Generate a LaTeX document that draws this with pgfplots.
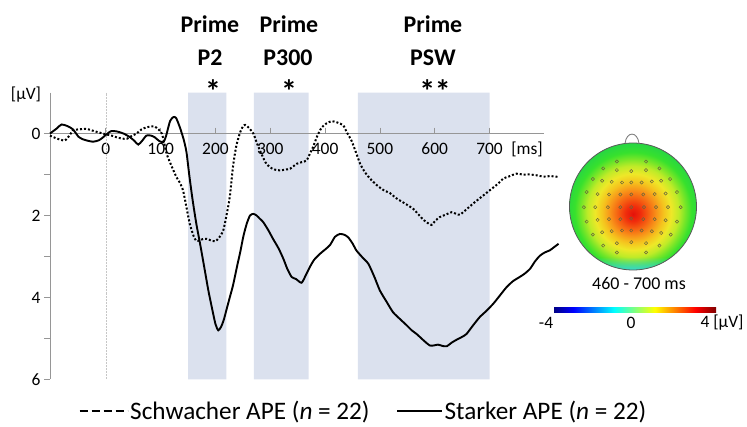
\documentclass[border=0pt]{standalone}
\usepackage{fontspec}
\setmainfont{Carlito}
\usepackage{pgfplots}
\pgfplotsset{compat=1.18}
\usetikzlibrary{fadings}
\definecolor{shadeblue}{RGB}{219,225,238}
\definecolor{axgray}{RGB}{150,150,150}
\definecolor{tpa}{RGB}{228,18,10}
\definecolor{tpb}{RGB}{240,45,12}
\definecolor{tpc}{RGB}{245,95,18}
\definecolor{tpd}{RGB}{248,145,25}
\definecolor{tpe}{RGB}{245,195,30}
\definecolor{tpf}{RGB}{238,232,40}
\definecolor{tpg}{RGB}{190,235,40}
\definecolor{tph}{RGB}{120,230,40}
\definecolor{tpi}{RGB}{55,225,45}
\definecolor{tpj}{RGB}{40,215,65}
\definecolor{tpcyan}{RGB}{60,215,215}
\definecolor{elec}{RGB}{105,100,60}
\pgfdeclareradialshading{topo}{\pgfpoint{0bp}{-3bp}}{%
 color(0bp)=(tpa);
 color(3bp)=(tpb);
 color(6bp)=(tpc);
 color(9bp)=(tpd);
 color(12bp)=(tpe);
 color(15bp)=(tpf);
 color(18bp)=(tpg);
 color(20.5bp)=(tph);
 color(23bp)=(tpi);
 color(26bp)=(tpj);
 color(50bp)=(tpj)}
\tikzfading[name=fadeup, top color=transparent!100, bottom color=transparent!0]
\newcommand{\tl}{\fontsize{17.5}{20}\selectfont}
\begin{document}
\begin{tikzpicture}
\begin{axis}[
 set layers,
 at={(50bp,47.5bp)}, anchor=south west, scale only axis,
 width=494.3bp, height=287bp,
 xmin=-102, xmax=800, ymin=-1, ymax=6, y dir=reverse,
 axis x line=middle, axis y line=left,
 axis line style={-, draw=axgray, line width=0.8bp},
 xtick={0,100,...,700}, ytick={0,1,...,6}, yticklabels={0,,2,,4,,6},
 tick style={draw=axgray, line width=0.8bp}, major tick length=6bp,
 tick align=outside,
 tick label style={font=\tl},
 /pgf/number format/assume math mode=true,
 clip=false,
 legend columns=2,
 legend cell align=left,
 legend style={at={(axis description cs:0.0577,-0.11)}, anchor=west, draw=none, fill=none,
   font=\fontsize{25.3}{28}\selectfont, inner sep=0pt,
   nodes={inner sep=1.5bp},
   /tikz/every even column/.append style={column sep=25bp}},
]
\addplot[fill=shadeblue, draw=none, forget plot, on layer=axis background] coordinates {(150,-1)(220,-1)(220,6)(150,6)(150,-1)};
\addplot[fill=shadeblue, draw=none, forget plot, on layer=axis background] coordinates {(270,-1)(370,-1)(370,6)(270,6)(270,-1)};
\addplot[fill=shadeblue, draw=none, forget plot, on layer=axis background] coordinates {(460,-1)(700,-1)(700,6)(460,6)(460,-1)};
\addplot[gray!45, line width=0.5bp, densely dotted, forget plot] coordinates {(0,-1)(0,6)};
% Schwacher APE (dotted)
\addplot[black, line width=2bp, dash pattern=on 2bp off 2bp, smooth, tension=0.4,
 legend image code/.code={\draw[black, line width=2bp, dash pattern=on 8.5bp off 3.5bp] (0bp,0bp) -- (48bp,0bp);}]
 coordinates {
(-102,0.05)(-90,0.12)(-75,0.17)(-65,0.02)(-60,-0.08)(-50,-0.1)(-35,-0.11)(-22,-0.06)(-11,-0.02)
(0,0.02)(10,0.05)(19,0.09)(28,0.12)(38,0.13)(47,0.06)(56,0.0)(65,-0.1)(74,-0.15)(82,-0.17)(89,-0.17)
(96,-0.1)(102,0.0)(106,0.2)(111,0.5)(120,0.8)(129,1.07)(135,1.2)(141,1.4)(147,1.8)(153,2.2)(160,2.5)
(165,2.62)(172,2.6)(178,2.57)(184,2.57)(190,2.6)(199,2.63)(206,2.55)(214,2.37)(220,2.0)(226,1.55)
(232,0.8)(238,0.3)(245,-0.03)(250,-0.17)(254,-0.21)(260,-0.15)(269,0.0)(276,0.25)(284,0.5)(291,0.7)
(299,0.82)(308,0.88)(318,0.9)(327,0.88)(336,0.86)(348,0.74)(357,0.70)(366,0.66)(372,0.5)(378,0.33)
(386,0.05)(394,-0.15)(403,-0.25)(412,-0.3)(422,-0.27)(433,-0.2)(440,-0.02)(448,0.17)(456,0.45)
(464,0.74)(473,0.95)(482,1.1)(491,1.22)(500,1.32)(509,1.4)(518,1.45)(530,1.58)(546,1.71)(561,1.84)
(570,1.97)(579,2.1)(587,2.18)(594,2.23)(601,2.13)(609,2.04)(620,1.98)(631,1.92)(639,1.96)(646,1.98)
(658,1.85)(670,1.71)(685,1.55)(701,1.38)(716,1.22)(725,1.1)(735,1.05)(749,0.98)(760,1.0)(774,1.0)
(786,1.02)(798,1.05)(812,1.04)(826,1.06)
 };
\addlegendentry{Schwacher APE (\textit{n} = 22)}
% Starker APE (solid)
\addplot[black, line width=1.9bp, smooth, tension=0.4,
 legend image code/.code={\draw[black, line width=2bp] (0bp,0bp) -- (45bp,0bp);}]
 coordinates {
(-102,0.0)(-90,-0.12)(-81,-0.22)(-70,-0.18)(-60,-0.10)(-50,0.08)(-44,0.13)(-35,0.17)(-23,0.20)
(-12,0.16)(-5,0.09)(3,0.0)(10,-0.06)(20,-0.05)(32,0.0)(44,0.09)(52,0.18)(59,0.27)(66,0.18)(74,0.05)
(82,0.05)(89,0.09)(97,0.18)(105,0.21)(110,0.05)(117,-0.3)(123,-0.4)(128,-0.38)(135,-0.15)(142,0.15)
(147,0.45)(152,1.0)(158,1.6)(165,2.2)(172,2.7)(180,3.3)(187,3.83)(195,4.35)(200,4.65)(205,4.8)
(210,4.72)(215,4.55)(220,4.3)(226,4.0)(232,3.7)(240,3.2)(245,2.9)(251,2.5)(257,2.2)(263,2.0)(269,1.96)
(275,2.0)(281,2.08)(287,2.16)(296,2.35)(305,2.57)(315,2.8)(324,3.06)(331,3.3)(339,3.5)(347,3.55)
(357,3.64)(365,3.45)(372,3.26)(380,3.08)(391,2.93)(400,2.83)(409,2.72)(418,2.52)(427,2.45)(435,2.47)
(442,2.53)(450,2.68)(457,2.85)(468,3.02)(479,3.18)(490,3.5)(500,3.83)(512,4.1)(524,4.36)(537,4.53)
(549,4.68)(558,4.8)(567,4.89)(580,5.05)(591,5.17)(598,5.17)(606,5.15)(614,5.18)(622,5.19)(631,5.1)
(640,5.03)(650,4.96)(658,4.89)(670,4.68)(682,4.48)(694,4.33)(707,4.15)(719,3.95)(731,3.75)(743,3.6)
(755,3.5)(764,3.42)(774,3.3)(783,3.12)(792,2.98)(801,2.9)(810,2.85)(818,2.77)(826,2.69)
 };
\addlegendentry{Starker APE (\textit{n} = 22)}
\end{axis}
% topographic map: head shading
\shade[shading=topo] (633bp,220.5bp) circle[radius=63.5bp];
\begin{scope}
\clip (633bp,220.5bp) circle[radius=63.5bp];
\fill[tpcyan, path fading=fadeup] (569bp,156.5bp) rectangle (697bp,170bp);
\end{scope}
\draw[gray!70!black, line width=0.8bp] (633bp,220.5bp) circle[radius=63.5bp];
\draw[gray, line width=0.9bp] (625bp,283.5bp) .. controls (626.5bp,296bp) and (637.5bp,296bp) .. (639bp,283.5bp);
\begin{axis}[
 at={(633bp,220.5bp)}, anchor=center, scale only axis,
 width=127bp, height=127bp,
 xmin=-1, xmax=1, ymin=-1, ymax=1,
 hide axis, clip=false,
 colormap/jet, point meta min=-4, point meta max=4,
 colorbar horizontal,
 colorbar/width=5bp,
 colorbar style={scale only axis, at={(parent axis.south west)}, anchor=south west,
   xshift=-16.5bp, yshift=-34bp, width=163bp,
   xtick=\empty, axis line style={draw=none}},
]
\addplot[only marks, mark=o, mark size=1.6bp, mark options={draw=elec, line width=0.5bp}] coordinates {
(-0.254,0.708)(0.205,0.708)
(-0.470,0.600)(0.416,0.600)(-0.254,0.573)(-0.027,0.557)(0.205,0.573)
(-0.632,0.432)(-0.486,0.405)(-0.335,0.389)(-0.173,0.378)(-0.027,0.378)(0.135,0.378)(0.297,0.395)(0.443,0.405)(0.584,0.432)
(-0.730,0.227)(-0.557,0.195)(-0.378,0.189)(-0.2,0.189)(-0.027,0.189)(0.162,0.189)(0.341,0.195)(0.514,0.205)(0.692,0.227)
(-0.773,-0.011)(-0.595,-0.011)(-0.395,-0.011)(-0.2,-0.011)(-0.027,-0.011)(0.173,-0.011)(0.362,-0.011)(0.551,-0.011)(0.751,-0.011)
(-0.730,-0.238)(-0.557,-0.211)(-0.378,-0.200)(-0.2,-0.200)(-0.027,-0.189)(0.162,-0.200)(0.341,-0.200)(0.514,-0.216)(0.692,-0.238)
(-0.632,-0.443)(-0.486,-0.405)(-0.335,-0.389)(-0.173,-0.378)(-0.027,-0.378)(0.135,-0.378)(0.297,-0.389)(0.443,-0.416)(0.595,-0.443)
(-0.470,-0.616)(-0.254,-0.578)(-0.027,-0.562)(0.205,-0.578)(0.416,-0.616)
(-0.254,-0.724)(0.205,-0.724)
};
\end{axis}
% texts
\node[font=\tl] at (26bp,332bp) {[µV]};
\node[font=\tl] at (527bp,278bp) {[ms]};
\node[font=\fontsize{18}{20}\selectfont] at (639bp,143.5bp) {460 - 700 ms};
\node[font=\tl] at (546bp,104bp) {-4};
\node[font=\tl] at (631bp,104bp) {0};
\node[font=\tl] at (722bp,104bp) {4 [µV]};
\begin{scope}[every node/.style={font=\bfseries\fontsize{24}{28}\selectfont, anchor=base, inner sep=0pt}]
\node at (210bp,394bp) {Prime};
\node at (210bp,361bp) {P2};
\node at (289bp,394bp) {Prime};
\node at (288bp,361bp) {P300};
\node at (433bp,394bp) {Prime};
\node at (433bp,361bp) {PSW};
\end{scope}
\begin{scope}[every node/.style={font=\bfseries\fontsize{32}{36}\selectfont, anchor=base, inner sep=0pt}]
\node at (213bp,324.5bp) {*};
\node at (289bp,324.5bp) {*};
\node at (435bp,324.5bp) {*\kern-0.5bp*};
\end{scope}
\pgfresetboundingbox
\path (0,0) rectangle (747bp,427bp);
\end{tikzpicture}
\end{document}
